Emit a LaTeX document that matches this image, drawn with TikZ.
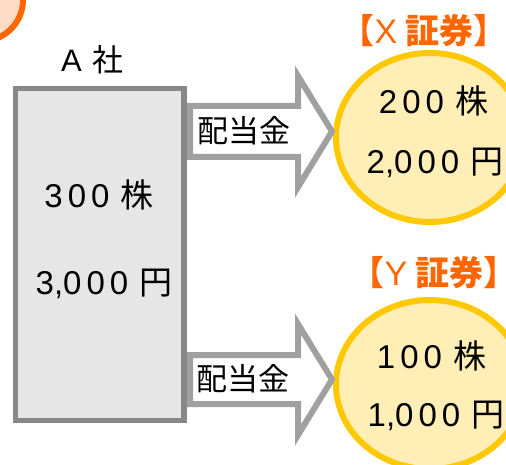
\documentclass[tikz,border=0pt]{standalone}
\usepackage{fontspec}
\setmainfont{Noto Sans CJK JP}
\newfontfamily\latin{Liberation Sans}
\newcommand{\lsp}{\kern5pt}
\newcommand{\unitgap}{\kern11pt}
\usetikzlibrary{shapes.geometric}

\definecolor{boxgray}{HTML}{888888}
\definecolor{boxfill}{HTML}{E6E6E6}
\definecolor{arrowgray}{HTML}{A0A0A0}
\definecolor{secorange}{HTML}{FF6600}
\definecolor{secyellow}{HTML}{FFC800}
\definecolor{secfill}{HTML}{FFEEB5}
\definecolor{markfill}{HTML}{FDDCC6}

\tikzset{
  divarrow/.style={draw=arrowgray, line width=6pt, fill=white, miter limit=10},
  sec/.style={ellipse, draw=secyellow, line width=6pt, fill=secfill,
    minimum width=188pt, minimum height=169pt},
  amount/.style={font=\fontsize{33}{36}\selectfont},
  sectitle/.style={text=secorange, font=\fontsize{34}{40}\selectfont\bfseries}
}

\begin{document}
\begin{tikzpicture}[x=1pt,y=-1pt]
        \useasboundingbox (0,0) rectangle (506,465);
        \clip (0,0) rectangle (506,465);

        \draw[secorange, line width=6pt, fill=markfill] (-18,0) circle (41pt);

        \node[rectangle,
            draw = boxgray,
            line width = 5.5pt,
            fill = boxfill,
            outer sep = 0pt,
            minimum width = 168.5pt,
            minimum height = 332pt] (box) at (99.75,254.5) {};
        \node[font=\fontsize{31}{36}\selectfont] (boxname) at (92.5,60) {{\latin A}\kern11pt{}社};
        \node[amount] (boxshares) at (99,195) {{\latin 3\lsp0\lsp0}\unitgap{}株};
        \node[amount] (boxyen) at (104,284) {{\latin 3,0\lsp0\lsp0}\unitgap{}円};

        \node[sec] (secx) at (430,137.5) {};
        \node[sec] (secy) at (430,384.5) {};
        \node[sectitle] (titlex) at (424,31) {【{\latin\mdseries X}\kern8pt{}証券】};
        \node[sectitle] (titley) at (434,273) {【{\latin\mdseries Y}\kern8pt{}証券】};

        \draw[divarrow] (190,106) -- (298,106) -- (298,76) -- (332,131.5) -- (298,187) -- (298,157) -- (190,157) -- cycle;
        \node[font=\fontsize{31}{36}\selectfont] (payx) at (244,131) {配当金};

        \draw[divarrow] (190,355) -- (298,355) -- (298,324) -- (332,379.5) -- (298,435) -- (298,404) -- (190,404) -- cycle;
        \node[font=\fontsize{31}{36}\selectfont] (payy) at (243,379) {配当金};

        \node[amount] (xshares) at (433.5,101) {{\latin 2\lsp0\lsp0}\unitgap{}株};
        \node[amount] (xyen) at (435,163) {{\latin 2,0\lsp0\lsp0}\unitgap{}円};
        \node[amount] (yshares) at (431.5,356) {{\latin 1\lsp0\lsp0}\unitgap{}株};
        \node[amount] (yyen) at (436,416) {{\latin 1,0\lsp0\lsp0}\unitgap{}円};

\end{tikzpicture}
\end{document}
